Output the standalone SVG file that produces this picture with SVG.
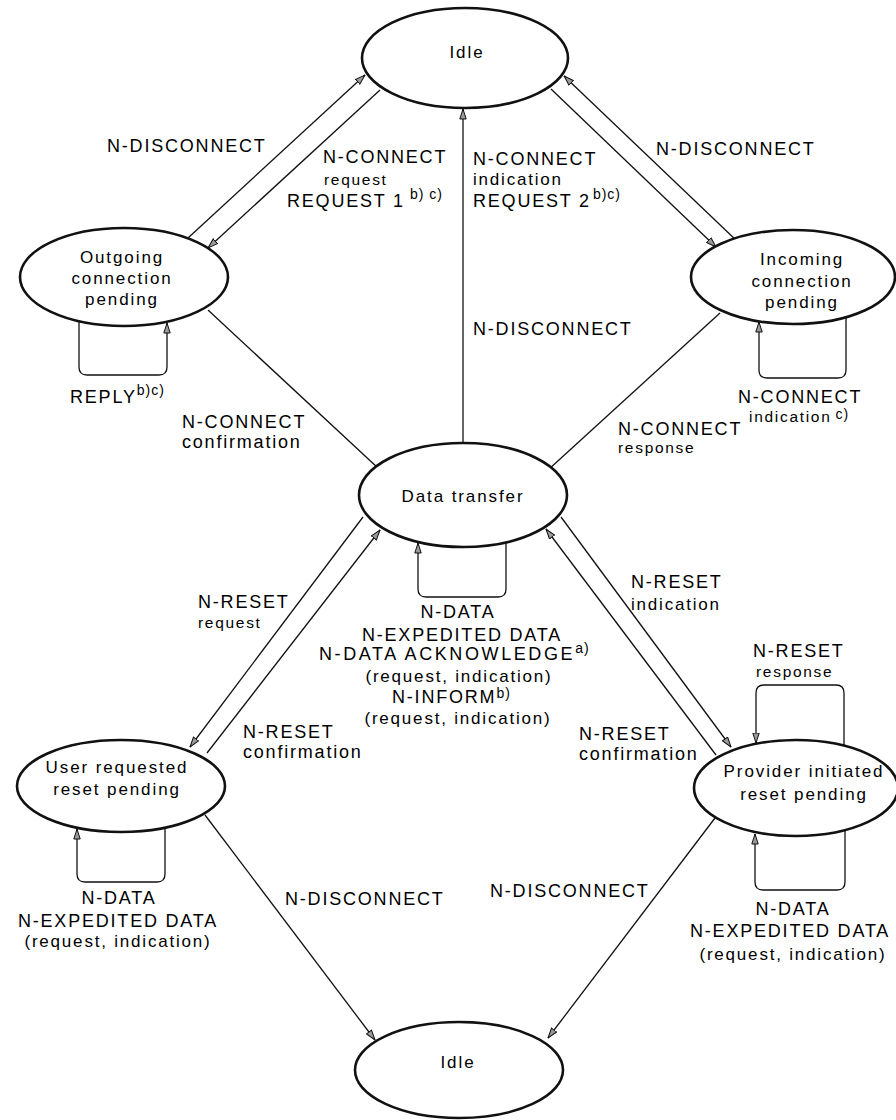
<svg xmlns="http://www.w3.org/2000/svg" width="896" height="1120" viewBox="0 0 896 1120">
<style>
text{font-family:"Liberation Sans",Arial,Helvetica,sans-serif;fill:#000}
.n{font-size:17px;letter-spacing:1.9px;text-anchor:middle}
.m{font-size:18px;letter-spacing:1.8px}
.s{font-size:15.5px;letter-spacing:1.7px}
.p{font-size:17px;letter-spacing:1.8px}
.c{text-anchor:middle}
.sup{font-size:14px;letter-spacing:1px}
.st{fill:#fff;stroke:#111;stroke-width:2.6}
.ln{fill:none;stroke:#111;stroke-width:1.3}
</style>
<defs>
<marker id="ah" viewBox="0 0 11 8" refX="10.5" refY="4" markerWidth="11" markerHeight="8" markerUnits="userSpaceOnUse" orient="auto">
<path d="M0.5,0.8 L10.5,4 L0.5,7.2 z" fill="#9a9a9a" stroke="#111" stroke-width="1"/>
</marker>
</defs>
<rect width="896" height="1120" fill="#fff"/>

<g id="connectors">
<path class="ln" d="M188,238 L365,75" marker-end="url(#ah)"/>
<path class="ln" d="M380,90 L208,248" marker-end="url(#ah)"/>
<path class="ln" d="M463,443 L463,109" marker-end="url(#ah)"/>
<path class="ln" d="M551,89 L716,247" marker-end="url(#ah)"/>
<path class="ln" d="M738,242 L564,76" marker-end="url(#ah)"/>
<path class="ln" d="M208,310 L378,468"/>
<path class="ln" d="M720,313 L548,470"/>
<path class="ln" d="M363,517 L190,747" marker-end="url(#ah)"/>
<path class="ln" d="M207,753 L380,530" marker-end="url(#ah)"/>
<path class="ln" d="M561,517 L731,747" marker-end="url(#ah)"/>
<path class="ln" d="M716,755 L546,529" marker-end="url(#ah)"/>
<path class="ln" d="M205,815 L375,1040" marker-end="url(#ah)"/>
<path class="ln" d="M715,818 L548,1038" marker-end="url(#ah)"/>
<path class="ln" d="M79,321 V367 Q79,375 87,375 H159 Q167,375 167,367 V323" marker-end="url(#ah)"/>
<path class="ln" d="M846,318 V370 Q846,378 838,378 H767 Q759,378 759,370 V322" marker-end="url(#ah)"/>
<path class="ln" d="M506,542 V589 Q506,597 498,597 H426 Q418,597 418,589 V543" marker-end="url(#ah)"/>
<path class="ln" d="M844,745 V693 Q844,685 836,685 H764 Q756,685 756,693 V743" marker-end="url(#ah)"/>
<path class="ln" d="M845,831 V882 Q845,890 837,890 H763 Q755,890 755,882 V834" marker-end="url(#ah)"/>
<path class="ln" d="M165,828 V874 Q165,882 157,882 H85 Q77,882 77,874 V829" marker-end="url(#ah)"/>
</g>

<g id="connector-labels">
<text class="m" x="107" y="152">N-DISCONNECT</text>
<text class="m" x="323" y="163">N-CONNECT</text>
<text class="s" x="324" y="185">request</text>
<text class="m" x="287" y="207">REQUEST 1<tspan class="sup" dx="5" dy="-8">b) c)</tspan></text>
<text class="m" x="473" y="165">N-CONNECT</text>
<text class="p" x="473" y="185">indication</text>
<text class="m" x="473" y="207">REQUEST 2<tspan class="sup" dx="2" dy="-8">b)c)</tspan></text>
<text class="m" x="656" y="155">N-DISCONNECT</text>
<text class="m" x="473" y="335">N-DISCONNECT</text>
<text class="m" x="70" y="403">REPLY<tspan class="sup" dx="0" dy="-8">b)c)</tspan></text>
<text class="m" x="182" y="428">N-CONNECT</text>
<text class="m" x="182" y="448">confirmation</text>
<text class="m" x="618" y="435">N-CONNECT</text>
<text class="s" x="618" y="453">response</text>
<text class="m" x="738" y="403">N-CONNECT</text>
<text class="s" x="749" y="422">indication<tspan class="sup" dx="4" dy="-3">c)</tspan></text>
<text class="m" x="198" y="608">N-RESET</text>
<text class="s" x="198" y="628">request</text>
<text class="m" x="243" y="738">N-RESET</text>
<text class="m" x="243" y="758">confirmation</text>
<text class="m" x="631" y="588">N-RESET</text>
<text class="p" x="631" y="610">indication</text>
<text class="m" x="579" y="740">N-RESET</text>
<text class="m" x="579" y="760">confirmation</text>
<text class="m" x="753" y="657">N-RESET</text>
<text class="s" x="756" y="677">response</text>
<text class="m c" x="458" y="618">N-DATA</text>
<text class="m c" x="462" y="641">N-EXPEDITED DATA</text>
<text class="m" x="319" y="660" style="letter-spacing:2.6px">N-DATA ACKNOWLEDGE<tspan class="sup" dx="0" dy="-7">a)</tspan></text>
<text class="p c" x="459" y="682">(request, indication)</text>
<text class="m" x="392" y="703">N-INFORM<tspan class="sup" dx="0" dy="-5">b)</tspan></text>
<text class="p c" x="458" y="724">(request, indication)</text>
<text class="m c" x="119" y="904">N-DATA</text>
<text class="m c" x="118" y="927">N-EXPEDITED DATA</text>
<text class="p c" x="118" y="947">(request, indication)</text>
<text class="m" x="285" y="905">N-DISCONNECT</text>
<text class="m" x="490" y="897">N-DISCONNECT</text>
<text class="m c" x="793" y="915">N-DATA</text>
<text class="m" x="690" y="937">N-EXPEDITED DATA</text>
<text class="p c" x="793" y="960">(request, indication)</text>
</g>

<g id="idle-top">
<ellipse class="st" cx="465" cy="58" rx="103" ry="50"/>
<text class="n" x="467" y="58">Idle</text>
</g>
<g id="outgoing-connection-pending">
<ellipse class="st" cx="124" cy="277" rx="104" ry="49"/>
<text class="n" x="122" y="263">Outgoing</text>
<text class="n" x="122" y="284">connection</text>
<text class="n" x="122" y="305">pending</text>
</g>
<g id="incoming-connection-pending">
<ellipse class="st" cx="793" cy="277" rx="102" ry="47"/>
<text class="n" x="802" y="265">Incoming</text>
<text class="n" x="802" y="287">connection</text>
<text class="n" x="802" y="308">pending</text>
</g>
<g id="data-transfer">
<ellipse class="st" cx="463" cy="495" rx="104" ry="52"/>
<text class="n" x="463" y="502">Data transfer</text>
</g>
<g id="user-requested-reset-pending">
<ellipse class="st" cx="121" cy="786" rx="104" ry="46"/>
<text class="n" x="117" y="773">User requested</text>
<text class="n" x="117" y="795">reset pending</text>
</g>
<g id="provider-initiated-reset-pending">
<ellipse class="st" cx="796" cy="788" rx="102" ry="48"/>
<text class="n" x="804" y="777">Provider initiated</text>
<text class="n" x="804" y="800">reset pending</text>
</g>
<g id="idle-bottom">
<ellipse class="st" cx="459" cy="1070" rx="104" ry="48"/>
<text class="n" x="458" y="1068">Idle</text>
</g>
</svg>
